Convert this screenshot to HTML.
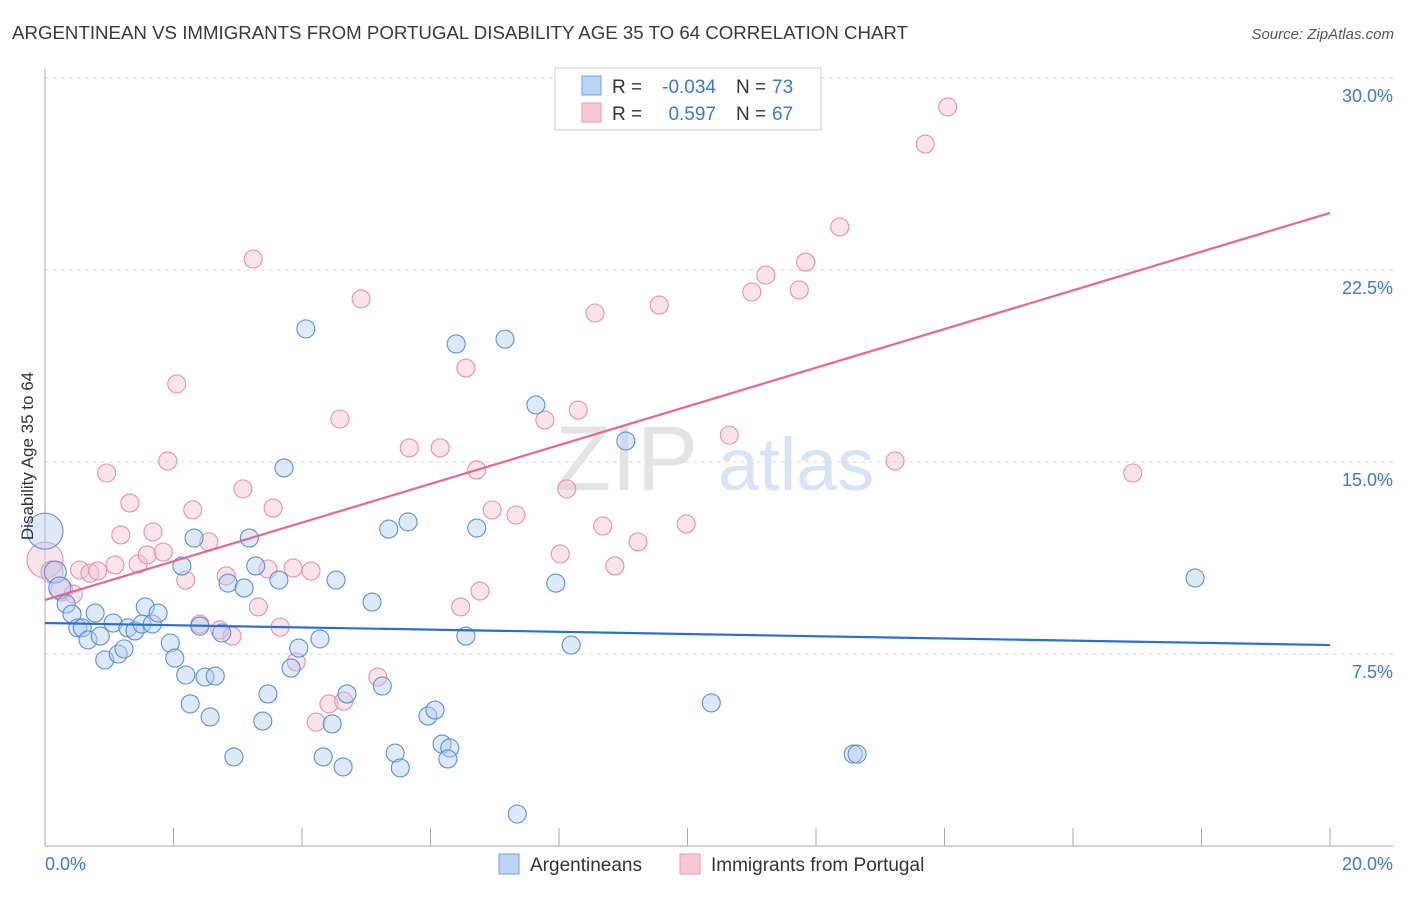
<!DOCTYPE html>
<html><head><meta charset="utf-8"><style>
body{margin:0;background:#fff;font-family:"Liberation Sans",sans-serif;}
svg text{font-family:"Liberation Sans",sans-serif;}
</style></head><body>
<svg id="chart" width="1406" height="892" viewBox="0 0 1406 892" xmlns="http://www.w3.org/2000/svg">
<text x="12" y="39" font-size="18" fill="#3a3a3a" textLength="896" lengthAdjust="spacingAndGlyphs">ARGENTINEAN VS IMMIGRANTS FROM PORTUGAL DISABILITY AGE 35 TO 64 CORRELATION CHART</text>
<text x="1394" y="39" font-size="15" fill="#555" font-style="italic" text-anchor="end">Source: ZipAtlas.com</text>
<g id="grid"></g>
<g><text x="555" y="490" font-size="92" fill="#e4e4e4" font-family="Liberation Serif">ZIP</text><text x="718" y="490" font-size="74" fill="#d6e4f5">atlas</text></g>
<g id="pts"></g>
<g id="lines"></g>
<text transform="translate(33,456) rotate(-90)" font-size="17" fill="#333" text-anchor="middle">Disability Age 35 to 64</text>
<g>
<rect x="555" y="68" width="266" height="62" fill="#fff" stroke="#ccc"/>
<rect x="582" y="76" width="19" height="19" fill="#bcd4f5" stroke="#7aa3e0"/>
<rect x="582" y="103" width="19" height="19" fill="#f9c9d6" stroke="#ec9ab2"/>
<text x="612" y="93" font-size="19" fill="#333">R =</text>
<text x="716" y="93" font-size="19" fill="#3b78d8" text-anchor="end">-0.034</text>
<text x="736" y="93" font-size="19" fill="#333">N =</text>
<text x="772" y="93" font-size="19" fill="#3b78d8">73</text>
<text x="612" y="120" font-size="19" fill="#333">R =</text>
<text x="716" y="120" font-size="19" fill="#3b78d8" text-anchor="end">0.597</text>
<text x="736" y="120" font-size="19" fill="#333">N =</text>
<text x="772" y="120" font-size="19" fill="#3b78d8">67</text>
</g>
<g>
<rect x="499" y="854" width="20" height="20" fill="#bcd4f5" stroke="#7aa3e0"/>
<text x="530" y="871" font-size="19" fill="#333">Argentineans</text>
<rect x="680" y="854" width="20" height="20" fill="#f9c9d6" stroke="#ec9ab2"/>
<text x="711" y="871" font-size="19" fill="#333">Immigrants from Portugal</text>
</g>
</svg>
<script>
const xTickLabels=["0.0%","20.0%"];
const yTicks=[7.5,15,22.5,30];
const yTickLabels=["7.5%","15.0%","22.5%","30.0%"];
const blueX=[0,0.16,0.23,0.33,0.42,0.51,0.58,0.67,0.78,0.86,0.93,1.06,1.14,1.23,1.29,1.40,1.56,1.51,1.67,1.76,1.95,2.02,2.13,2.19,2.26,2.32,2.41,2.49,2.57,2.65,2.75,2.85,2.94,3.10,3.18,3.28,3.39,3.47,3.64,3.72,3.83,3.95,4.06,4.28,4.33,4.47,4.53,4.64,4.70,5.09,5.25,5.35,5.45,5.53,5.65,5.96,6.07,6.18,6.30,6.27,6.40,6.55,6.72,7.16,7.35,7.64,7.95,8.19,9.04,10.37,12.58,12.64,17.90];
const blueY=[12.30,10.70,10.08,9.45,9.06,8.52,8.52,8.05,9.10,8.20,7.27,8.71,7.50,7.70,8.52,8.40,9.34,8.67,8.67,9.10,7.93,7.34,10.94,6.68,5.55,12.03,8.59,6.60,5.04,6.64,8.32,10.27,3.48,10.08,12.03,10.94,4.88,5.94,10.39,14.77,6.95,7.73,20.20,8.09,3.48,4.77,10.39,3.09,5.94,9.53,6.25,12.38,3.63,3.05,12.66,5.08,5.31,3.98,3.83,3.40,19.61,8.20,12.42,19.80,1.25,17.23,10.27,7.85,15.82,5.59,3.59,3.59,10.47];
const pinkX=[0,0.11,0.26,0.44,0.54,0.70,0.82,0.96,1.09,1.18,1.32,1.45,1.59,1.68,1.84,1.91,2.05,2.19,2.30,2.41,2.55,2.72,2.82,2.91,3.08,3.24,3.32,3.47,3.55,3.66,3.86,3.91,4.14,4.22,4.42,4.59,4.65,4.92,5.18,5.67,6.15,6.47,6.55,6.72,6.77,6.96,7.33,7.78,8.02,8.12,8.30,8.56,8.68,8.87,9.23,9.56,9.98,10.65,11.00,11.22,11.74,11.84,12.37,13.23,13.70,14.05,16.93];
const pinkY=[11.17,10.70,10.00,9.84,10.78,10.66,10.74,14.57,10.98,12.15,13.40,11.02,11.37,12.27,11.48,15.04,18.05,10.39,13.13,8.67,11.88,8.44,10.55,8.20,13.95,22.93,9.34,10.82,13.20,8.55,10.86,7.19,10.74,4.84,5.55,16.68,5.66,21.37,6.60,15.55,15.55,9.34,18.67,14.69,9.96,13.13,12.93,16.64,11.41,13.95,17.03,20.82,12.50,10.94,11.88,21.13,12.58,16.05,21.64,22.30,21.72,22.81,24.18,15.04,27.42,28.87,14.57];
const blueTrend=[8.71,7.85];
const pinkTrend=[9.61,24.73];
const NS="http://www.w3.org/2000/svg";
const X0=45,X1=1330,Y0=846,YT=654;
function sx(v){return X0+(X1-X0)*v/20;}
function sy(v){return Y0-(Y0-YT)*v/7.5;}
function mk(tag,attrs,parent){const e=document.createElementNS(NS,tag);for(const k in attrs)e.setAttribute(k,attrs[k]);parent.appendChild(e);return e;}
const grid=document.getElementById('grid');
yTicks.forEach((t,i)=>{
 const l=mk('line',{x1:45,x2:1393,y1:sy(t),y2:sy(t),stroke:'#d8d8d8','stroke-dasharray':'4,4'},grid);
 
 
 const tx=mk('text',{x:1393,y:sy(t)+24,'font-size':18,fill:'#3b78d8','text-anchor':'end'},grid);
 tx.textContent=yTickLabels[i];
 
 
});
const ax=mk('line',{x1:45,x2:45,y1:68,y2:846,stroke:'#aaa'},grid);


const bx=mk('line',{x1:45,x2:1393,y1:846,y2:846,stroke:'#aaa'},grid);


for(let i=0;i<=10;i++){
 const t=mk('line',{x1:sx(i*2),x2:sx(i*2),y1:828,y2:846,stroke:'#aaa'},grid);
 
 
}
[[0,'start',45],[20,'end',1393]].forEach((d,i)=>{
 const t=mk('text',{x:d[2],y:870,'font-size':18,fill:'#3b78d8','text-anchor':d[1]},grid);
 t.textContent=xTickLabels[i];
 
 
});
const pts=document.getElementById('pts');
function draw(xs,ys,fill,stroke,name){
 xs.forEach((x,i)=>{
  const r=i===0?18:(i<3?11:9);
  const c=mk('circle',{cx:sx(x),cy:sy(ys[i]),r:r,fill:fill,'fill-opacity':0.45,stroke:stroke,'stroke-width':1.1},pts);
  
  
 });
}
draw(pinkX,pinkY,'#f8c3d2','#ea8fab','point-portugal');
draw(blueX,blueY,'#b5cff3','#5a90dc','point-argentinean');
const lines=document.getElementById('lines');
const bl=mk('line',{x1:sx(0),y1:sy(blueTrend[0]),x2:sx(20),y2:sy(blueTrend[1]),stroke:'#2a6fd6','stroke-width':2.2},lines);


const pl=mk('line',{x1:sx(0),y1:sy(pinkTrend[0]),x2:sx(20),y2:sy(pinkTrend[1]),stroke:'#e8668f','stroke-width':2.2},lines);


</script>
</body></html>
